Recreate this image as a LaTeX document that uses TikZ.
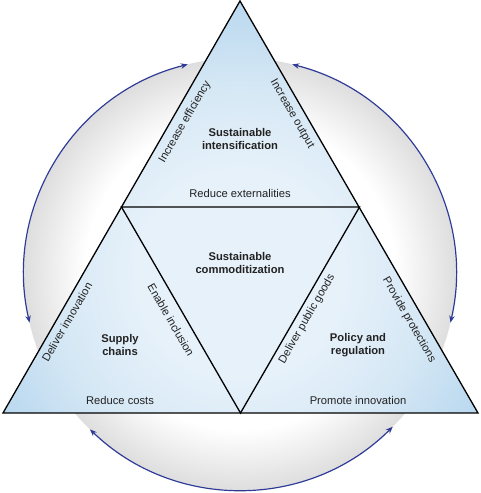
\documentclass[tikz,border=0pt]{standalone}
\usepackage{fontspec}
\setmainfont{Liberation Sans}
\usetikzlibrary{arrows.meta}
\definecolor{txt}{HTML}{222222}
\definecolor{arrblue}{HTML}{2E3A96}
\definecolor{tricore}{HTML}{E6F1FA}
\definecolor{trimid}{HTML}{D6E8F5}
\definecolor{triedge}{HTML}{B4D5EE}
\definecolor{rim}{HTML}{DEDEDE}
\pgfdeclareradialshading{rimshade}{\pgfpoint{0bp}{0bp}}{color(0bp)=(white); color(18bp)=(white); color(25bp)=(rim); color(50bp)=(rim)}
\pgfdeclareradialshading{trishade}{\pgfpoint{0bp}{0bp}}{color(0bp)=(tricore); color(9bp)=(tricore); color(16bp)=(trimid); color(25bp)=(triedge); color(50bp)=(triedge)}
\tikzset{
  lbl/.style={text=txt, font=\fontsize{11.2}{12.4}\selectfont, inner sep=0pt, align=center},
  ttl/.style={lbl, font=\fontsize{11.2}{12.4}\selectfont\bfseries},
  edge/.style={draw=black, line width=1.3pt, line join=miter},
  arr/.style={draw=arrblue, line width=1.2pt, {Stealth[length=7pt,width=5.5pt]}-{Stealth[length=7pt,width=5.5pt]}}
}
\begin{document}
\begin{tikzpicture}[x=1pt,y=1pt]
\useasboundingbox (0,0) rectangle (480,493);
% background circle
\coordinate (C) at (240,219);
\shade[shading=rimshade] (C) circle (216);
% arcs
\draw[arr] (C) ++(104:216) arc[start angle=104, end angle=193, radius=216];
\draw[arr] (C) ++(76:216) arc[start angle=76, end angle=-13, radius=216];
\draw[arr] (C) ++(226:216) arc[start angle=226, end angle=315, radius=216];
% triangle vertices
\coordinate (A) at (240,492);
\coordinate (L) at (3,80);
\coordinate (R) at (478,80);
\coordinate (ML) at (121.5,286);
\coordinate (MR) at (359.5,286);
\coordinate (MB) at (240.5,80);
\begin{scope}
  \clip (A) -- (L) -- (R) -- cycle;
  \shade[shading=trishade] (240,219) circle (290);
\end{scope}
\draw[edge] (A) -- (L) -- (R) -- cycle;
\draw[edge] (ML) -- (MR) -- (MB) -- cycle;
% labels
\node[ttl] (si) at (240,354) {Sustainable\\intensification};
\node[lbl] (re) at (240,299) {Reduce externalities};
\node[ttl] (sc) at (240,230) {Sustainable\\commoditization};
\node[ttl] (sp) at (120,148) {Supply\\chains};
\node[ttl] (pr) at (358,148) {Policy and\\regulation};
\node[lbl] (rc) at (120,93) {Reduce costs};
\node[lbl] (pi) at (358,93) {Promote innovation};
\node[lbl, rotate=60] (ie) at (185,371) {Increase efficiency};
\node[lbl, rotate=-60] (io) at (292,379) {Increase output};
\node[lbl, rotate=60] (di) at (67,171) {Deliver innovation};
\node[lbl, rotate=-60] (ei) at (171,173) {Enable inclusion};
\node[lbl, rotate=60] (dp) at (307,174) {Deliver public goods};
\node[lbl, rotate=-60] (pp) at (409,173) {Provide protections};
\end{tikzpicture}
\end{document}
